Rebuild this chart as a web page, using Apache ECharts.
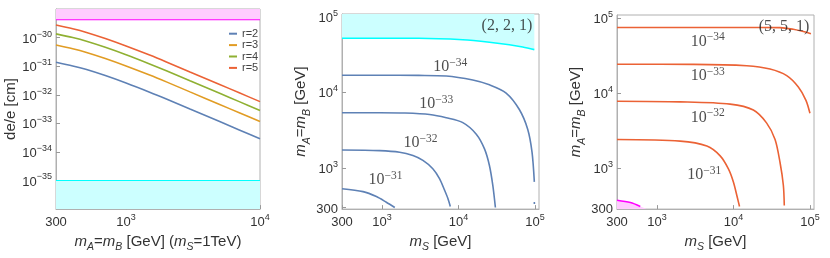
<!DOCTYPE html>
<html><head><meta charset="utf-8">
<script src="https://cdn.jsdelivr.net/npm/echarts@6/dist/echarts.min.js"></script>
<style>html,body{margin:0;padding:0;background:#fff}#c{width:830px;height:258px}</style>
</head><body><div id="c"></div><script>
// ---------- Panel 1: de/e [cm] vs m_A=m_B (m_S = 1 TeV) ----------
const massA = [300, 400, 500, 700, 1000, 1500, 2000, 3000, 5000, 7000, 10000];
const r2 = [1.38e-31, 1.02e-31, 7.76e-32, 4.68e-32, 2.57e-32, 1.23e-32, 7.08e-33, 3.16e-33, 1.15e-33, 5.89e-34, 2.88e-34];
const r3 = [5.50e-31, 4.07e-31, 3.09e-31, 1.86e-31, 1.02e-31, 4.90e-32, 2.82e-32, 1.26e-32, 4.57e-33, 2.34e-33, 1.15e-33];
const r4 = [1.35e-30, 1.00e-30, 7.59e-31, 4.57e-31, 2.51e-31, 1.20e-31, 6.92e-32, 3.09e-32, 1.12e-32, 5.75e-33, 2.82e-33];
const r5 = [2.75e-30, 2.04e-30, 1.55e-30, 9.30e-31, 5.10e-31, 2.45e-31, 1.41e-31, 6.30e-32, 2.29e-32, 1.17e-32, 5.75e-33];
const bandX = [300, 10000];
const pinkBandLevel = 4.2e-30;   // excluded above this
const cyanBandLevel = 1e-35;     // future reach below this
const leftYRange = [1e-36, 1e-29];
const leftXTicks = [300, 1000, 10000];
const leftYTicks = [1e-35, 1e-34, 1e-33, 1e-32, 1e-31, 1e-30];
// ECharts' log scale rounds extents to <=20 decimals, so the cm values are
// handed to the axis in units of 1e-30 cm; tick labels are shifted back.
const UNIT_EXP = -30;
const toUnit = v => v / Math.pow(10, UNIT_EXP);

// ---------- Panel 2: (2,2,1) contours ----------
const cyan221_ms = [300, 3000, 11400, 25400, 46300, 69200, 98200];
const cyan221_mA = [52100, 52000, 49700, 46200, 42800, 39800, 36800];
const b34_ms = [300, 933, 3000, 6920, 15400, 25400, 42000, 62500, 80400, 91600, 98200];
const b34_mA = [16900, 16900, 16800, 16500, 14600, 12600, 9800, 5940, 3260, 1620, 656];
const b34dot_ms = [98200, 98300];
const b34dot_mA = [355, 335];
const b33_ms = [300, 933, 2000, 4190, 6920, 11400, 17100, 21900, 25400, 28100, 30400];
const b33_mA = [5380, 5380, 5330, 5100, 4620, 3980, 2800, 1790, 1080, 593, 300];
const b32_ms = [300, 933, 1700, 2540, 3430, 4620, 5650, 6580, 7260, 7820];
const b32_mA = [1730, 1700, 1620, 1460, 1260, 980, 725, 510, 398, 310];
const b31_ms = [300, 565, 845, 1140, 1470];
const b31_mA = [532, 487, 419, 352, 300];
const midLabelExp = [-34, -33, -32, -31];
const midLabel_ms = [7830, 5130, 3180, 1110];
const midLabel_mA = [22300, 7260, 2240, 715];
const midTitle = '(2, 2, 1)';
const midTitlePos = [43000, 76400];

// ---------- Panel 3: (5,5,1) contours ----------
const o34_ms = [300, 3000, 20000, 40600, 60500, 81800, 103000];
const o34_mA = [74500, 74500, 74400, 74100, 70300, 65600, 61200];
const o33_ms = [300, 3000, 14900, 30100, 49700, 70500, 88700, 100000];
const o33_mA = [24100, 24000, 23000, 20800, 17000, 12000, 8000, 5380];
const o32_ms = [300, 2010, 9040, 18200, 27200, 35000, 40600, 44900, 46200];
const o32_mA = [7780, 7620, 7110, 5940, 3980, 2410, 1200, 593, 319];
const o31_ms = [300, 2010, 4490, 6700, 8590, 9980, 11300, 12000];
const o31_mA = [2410, 2290, 1970, 1460, 980, 656, 398, 310];
const mag_ms = [300, 449, 605];
const mag_mA = [375, 349, 310];
const magFill_ms = [300, 449, 605, 740];
const magFill_mA = [375, 349, 310, 286];
const rightLabelExp = [-34, -33, -32, -31];
const rightLabel_ms = [4600, 4600, 4600, 4140];
const rightLabel_mA = [50100, 17500, 4890, 843];
const rightTitle = '(5, 5, 1)';
const rightTitlePos = [45800, 76400];

const contourXRange = [300, 113000];
const contourYRange = [286, 109000];
const contourTicks = [300, 1000, 10000, 100000];

// ---------- helpers ----------
const SANS = '"Liberation Sans", Arial, sans-serif';
const SERIF = '"Liberation Serif", "Times New Roman", serif';
const pairs = (xs, ys) => xs.map((x, i) => [x, ys[i]]);
const MINUS = '\u2212';

const tickRich = {
  b: {fontSize: 13, fontFamily: SANS, color: '#333', lineHeight: 16, verticalAlign: 'bottom'},
  s: {fontSize: 9, fontFamily: SANS, color: '#333', lineHeight: 8, verticalAlign: 'top'}
};
function powLabel(e) { return '{b|10}{s|' + (e < 0 ? MINUS + (-e) : e) + '}'; }
function tickFmt(v) {
  if (Math.abs(v - 300) < 1) return '{b|300}';
  return powLabel(Math.round(Math.log10(v)));
}
function unitTickFmt(v) { return powLabel(Math.round(Math.log10(v)) + UNIT_EXP); }
const nameRich = {
  n: {fontSize: 15, fontFamily: SANS, color: '#333', lineHeight: 19, verticalAlign: 'top'},
  i: {fontSize: 15, fontFamily: SANS, fontStyle: 'italic', color: '#333', lineHeight: 19, verticalAlign: 'top'},
  si: {fontSize: 10.5, fontFamily: SANS, fontStyle: 'italic', color: '#333', lineHeight: 10, verticalAlign: 'bottom'}
};
const frameColor = '#b0b0b0';
function logAxis(grid, range, ticks, name, nameGap, fmt) {
  return {
    type: 'log', logBase: 10, gridIndex: grid, min: range[0], max: range[1],
    name: name, nameLocation: 'middle', nameGap: nameGap,
    nameTextStyle: {color: '#333', fontFamily: SANS, fontSize: 15, rich: nameRich},
    axisLine: {show: true, lineStyle: {color: frameColor, width: 1}},
    axisTick: {show: true, inside: true, length: 4, customValues: ticks, lineStyle: {color: '#999'}},
    axisLabel: {customValues: ticks, formatter: fmt || tickFmt, rich: tickRich, margin: 4},
    splitLine: {show: false}, minorTick: {show: false}, minorSplitLine: {show: false}
  };
}
const mAname = '{i|m}{si|A}{n|=}{i|m}{si|B}{n| [GeV]}';
const msName = '{i|m}{si|S}{n| [GeV]}';

const C = {blue: '#5E81B5', orange: '#E19C24', green: '#8FB032', red: '#EB6235'};

function curve(name, x, y, data, color, width, smooth) {
  return {type: 'line', name: name, xAxisIndex: x, yAxisIndex: y, data: data, symbol: 'none',
    smooth: smooth || false, lineStyle: {color: color, width: width || 1.6}, itemStyle: {color: color},
    silent: true, z: 3};
}
function labelSeries(name, idx, xs, ys, exps) {
  return {type: 'scatter', name: name, xAxisIndex: idx, yAxisIndex: idx, symbolSize: 0, silent: true, z: 5,
    data: xs.map((x, i) => ({value: [x, ys[i]], name: String(exps[i])})),
    label: {show: true, position: 'inside', color: '#222',
      formatter: p => '{b|10}{s|' + MINUS + (-Number(p.name)) + '}',
      rich: {
        b: {fontSize: 16, fontFamily: SERIF, color: '#222', lineHeight: 18, verticalAlign: 'bottom'},
        s: {fontSize: 11.5, fontFamily: SERIF, color: '#222', lineHeight: 11, verticalAlign: 'top'}
      }}
  };
}
function titleSeries(name, idx, pos, text) {
  return {type: 'scatter', name: name, xAxisIndex: idx, yAxisIndex: idx, symbolSize: 0, silent: true, z: 5,
    data: [{value: pos, name: text}],
    label: {show: true, position: 'inside', formatter: p => p.name, fontFamily: SERIF, fontSize: 16, color: '#222'}};
}
const leftPairs = arr => pairs(massA, arr.map(toUnit));

// pink region of panel 3: polygon under the magenta curve down to the axis floor
const magPolygon = pairs(magFill_ms, magFill_mA).concat([[magFill_ms[0], contourYRange[0]]]);

const series = [
  // left bands (filled with markArea, edges as lines)
  {type: 'line', name: 'pinkBand', xAxisIndex: 0, yAxisIndex: 0, symbol: 'none', silent: true, z: 2,
    data: pairs(bandX, bandX.map(() => toUnit(pinkBandLevel))),
    lineStyle: {color: '#ff00ff', width: 1.2},
    markArea: {silent: true, itemStyle: {color: '#ffccff', opacity: 1},
      data: [[{xAxis: bandX[0], yAxis: toUnit(pinkBandLevel)}, {xAxis: bandX[1], yAxis: toUnit(leftYRange[1])}]]}},
  {type: 'line', name: 'cyanBand', xAxisIndex: 0, yAxisIndex: 0, symbol: 'none', silent: true, z: 2,
    data: pairs(bandX, bandX.map(() => toUnit(cyanBandLevel))),
    lineStyle: {color: '#00ffff', width: 1.2},
    markArea: {silent: true, itemStyle: {color: '#ccffff', opacity: 1},
      data: [[{xAxis: bandX[0], yAxis: toUnit(leftYRange[0])}, {xAxis: bandX[1], yAxis: toUnit(cyanBandLevel)}]]}},
  curve('r=2', 0, 0, leftPairs(r2), C.blue, 1.6, 0.3),
  curve('r=3', 0, 0, leftPairs(r3), C.orange, 1.6, 0.3),
  curve('r=4', 0, 0, leftPairs(r4), C.green, 1.6, 0.3),
  curve('r=5', 0, 0, leftPairs(r5), C.red, 1.6, 0.3),
  // middle
  {type: 'line', name: 'cyan221', xAxisIndex: 1, yAxisIndex: 1, symbol: 'none', silent: true, z: 1, smooth: 0.3,
    data: pairs(cyan221_ms, cyan221_mA),
    lineStyle: {color: '#00ffff', width: 1.6}, areaStyle: {color: '#ccffff', opacity: 1, origin: 'end'}},
  curve('b34', 1, 1, pairs(b34_ms, b34_mA), C.blue, 1.6, 0.3),
  curve('b34dot', 1, 1, pairs(b34dot_ms, b34dot_mA), C.blue, 1.6),
  curve('b33', 1, 1, pairs(b33_ms, b33_mA), C.blue, 1.6, 0.3),
  curve('b32', 1, 1, pairs(b32_ms, b32_mA), C.blue, 1.6, 0.3),
  curve('b31', 1, 1, pairs(b31_ms, b31_mA), C.blue, 1.6, 0.3),
  labelSeries('midLabels', 1, midLabel_ms, midLabel_mA, midLabelExp),
  titleSeries('midTitle', 1, midTitlePos, midTitle),
  // right
  {type: 'custom', name: 'magFill', xAxisIndex: 2, yAxisIndex: 2, silent: true, z: 1, clip: true,
    data: magPolygon,
    renderItem: (params, api) => {
      if (params.dataIndex !== 0) return null;
      return {type: 'polygon', shape: {points: magPolygon.map(p => api.coord(p))},
        style: {fill: '#ffccff', stroke: null}};
    }},
  curve('mag', 2, 2, pairs(mag_ms, mag_mA), '#ff00ff', 1.6, 0.3),
  curve('o34', 2, 2, pairs(o34_ms, o34_mA), C.red, 1.6, 0.3),
  curve('o33', 2, 2, pairs(o33_ms, o33_mA), C.red, 1.6, 0.3),
  curve('o32', 2, 2, pairs(o32_ms, o32_mA), C.red, 1.6, 0.3),
  curve('o31', 2, 2, pairs(o31_ms, o31_mA), C.red, 1.6, 0.3),
  labelSeries('rightLabels', 2, rightLabel_ms, rightLabel_mA, rightLabelExp),
  titleSeries('rightTitle', 2, rightTitlePos, rightTitle)
];

const gridBase = {show: true, borderColor: frameColor, borderWidth: 1, containLabel: false};
const option = {
  animation: false,
  backgroundColor: '#fff',
  grid: [
    Object.assign({left: 56, top: 9, width: 204, height: 204}, gridBase),
    Object.assign({left: 342, top: 14, width: 197, height: 197}, gridBase),
    Object.assign({left: 617, top: 15, width: 197, height: 197}, gridBase)
  ],
  xAxis: [
    logAxis(0, bandX, leftXTicks, '{i|m}{si|A}{n|=}{i|m}{si|B}{n| [GeV] (}{i|m}{si|S}{n|=1TeV)}', 18),
    logAxis(1, contourXRange, contourTicks, msName, 18),
    logAxis(2, contourXRange, contourTicks, msName, 18)
  ],
  yAxis: [
    logAxis(0, leftYRange.map(toUnit), leftYTicks.map(toUnit), '{n|de/e [cm]}', 30, unitTickFmt),
    logAxis(1, contourYRange, contourTicks, mAname, 17),
    logAxis(2, contourYRange, contourTicks, mAname, 16)
  ],
  legend: {
    data: ['r=2', 'r=3', 'r=4', 'r=5'], orient: 'vertical', left: 224, top: 23,
    itemWidth: 8, itemHeight: 2, itemGap: 0, icon: 'rect', selectedMode: false,
    textStyle: {fontSize: 11, color: '#444', fontFamily: SANS, lineHeight: 11.4}
  },
  series: series
};
const chart = echarts.init(document.getElementById('c'), null, {renderer: 'canvas'});
chart.setOption(option);
</script></body></html>
